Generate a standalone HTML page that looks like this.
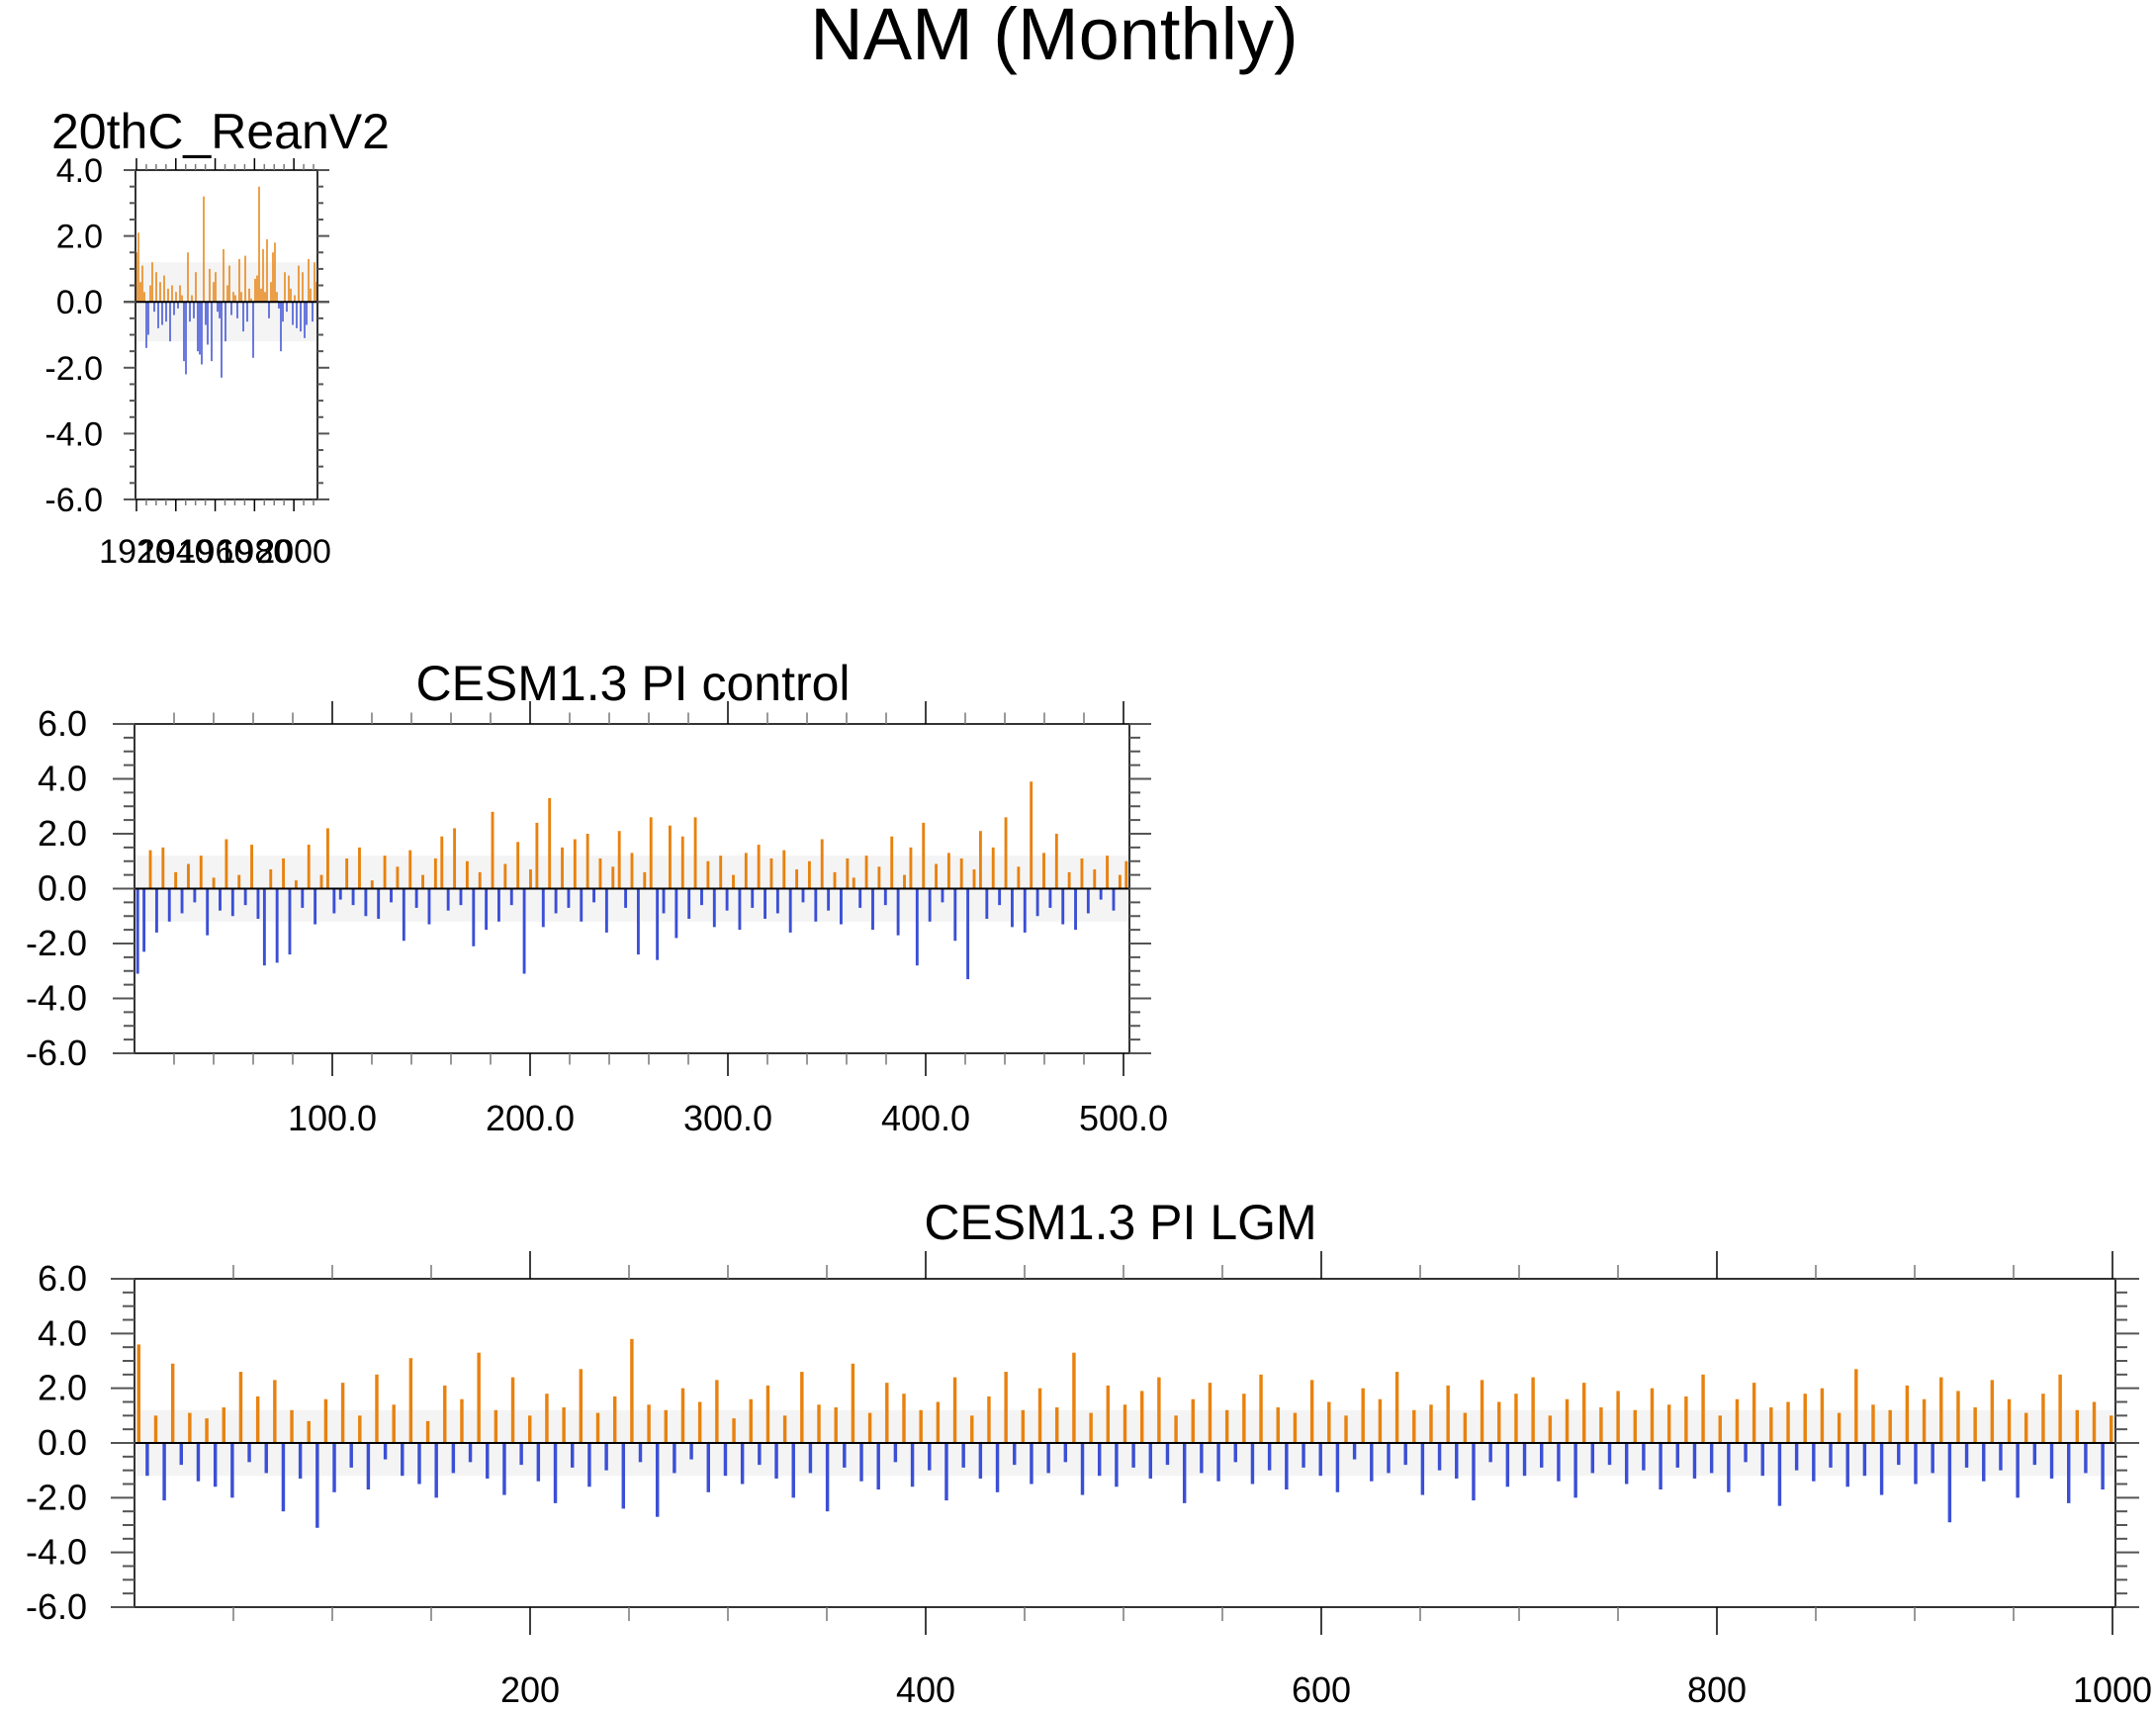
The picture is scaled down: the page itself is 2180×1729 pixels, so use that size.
<!DOCTYPE html>
<html><head><meta charset="utf-8"><style>
body{margin:0;background:#fff}
svg{display:block;font-family:"Liberation Sans",Arial,sans-serif}
</style></head><body>
<svg id="fig" width="2180" height="1729" viewBox="0 0 2180 1729" xmlns="http://www.w3.org/2000/svg">
<text x="1066" y="60" font-size="74" text-anchor="middle">NAM (Monthly)</text>
<g id="p1"></g>
<g id="p2"></g>
<g id="p3"></g>
</svg>
<script>
const p1Values=[1.5,2.1,0.6,1.1,0.3,-1.4,-1.0,0.5,1.2,-0.3,0.9,-0.8,0.6,-0.7,0.8,-0.6,0.4,-1.2,0.5,-0.4,0.3,-0.2,0.5,0.2,-1.8,-2.2,1.5,-0.6,0.2,-0.5,0.9,-1.5,-1.6,-1.9,3.2,-0.7,-1.3,1.0,-1.8,0.6,0.9,-0.3,-0.5,-2.3,1.6,-1.2,0.5,1.1,-0.4,0.3,0.2,-0.5,1.3,0.3,-0.9,1.4,-0.6,0.4,0.1,-1.7,0.7,0.8,3.5,0.4,1.6,0.3,1.9,-0.5,0.6,1.5,1.8,0.3,-0.2,-1.5,-0.6,0.9,-0.3,0.8,0.4,-0.7,0.2,-0.8,1.1,-0.9,0.9,-1.1,-0.7,1.3,0.4,-0.6,1.2,0.6];
const p2Values=[-3.1,-2.3,1.4,-1.6,1.5,-1.2,0.6,-0.9,0.9,-0.5,1.2,-1.7,0.4,-0.8,1.8,-1.0,0.5,-0.6,1.6,-1.1,-2.8,0.7,-2.7,1.1,-2.4,0.3,-0.7,1.6,-1.3,0.5,2.2,-0.9,-0.4,1.1,-0.6,1.5,-1.0,0.3,-1.1,1.2,-0.5,0.8,-1.9,1.4,-0.7,0.5,-1.3,1.1,1.9,-0.8,2.2,-0.6,1.0,-2.1,0.6,-1.5,2.8,-1.2,0.9,-0.6,1.7,-3.1,0.7,2.4,-1.4,3.3,-0.9,1.5,-0.7,1.8,-1.2,2.0,-0.5,1.1,-1.6,0.8,2.1,-0.7,1.3,-2.4,0.6,2.6,-2.6,-0.9,2.3,-1.8,1.9,-1.1,2.6,-0.6,1.0,-1.4,1.2,-0.8,0.5,-1.5,1.3,-0.7,1.6,-1.1,1.1,-0.9,1.4,-1.6,0.7,-0.5,1.0,-1.2,1.8,-0.8,0.6,-1.3,1.1,0.4,-0.7,1.2,-1.5,0.8,-0.6,1.9,-1.7,0.5,1.5,-2.8,2.4,-1.2,0.9,-0.5,1.3,-1.9,1.1,-3.3,0.7,2.1,-1.1,1.5,-0.6,2.6,-1.4,0.8,-1.6,3.9,-1.0,1.3,-0.7,2.0,-1.3,0.6,-1.5,1.1,-0.9,0.7,-0.4,1.2,-0.8,0.5,1.0];
const p3Values=[3.6,-1.2,1.0,-2.1,2.9,-0.8,1.1,-1.4,0.9,-1.6,1.3,-2.0,2.6,-0.7,1.7,-1.1,2.3,-2.5,1.2,-1.3,0.8,-3.1,1.6,-1.8,2.2,-0.9,1.0,-1.7,2.5,-0.6,1.4,-1.2,3.1,-1.5,0.8,-2.0,2.1,-1.1,1.6,-0.7,3.3,-1.3,1.2,-1.9,2.4,-0.8,1.0,-1.4,1.8,-2.2,1.3,-0.9,2.7,-1.6,1.1,-1.0,1.7,-2.4,3.8,-0.7,1.4,-2.7,1.2,-1.1,2.0,-0.6,1.5,-1.8,2.3,-1.2,0.9,-1.5,1.6,-0.8,2.1,-1.3,1.0,-2.0,2.6,-1.1,1.4,-2.5,1.3,-0.9,2.9,-1.4,1.1,-1.7,2.2,-0.7,1.8,-1.6,1.2,-1.0,1.5,-2.1,2.4,-0.9,1.0,-1.3,1.7,-1.8,2.6,-0.8,1.2,-1.5,2.0,-1.1,1.3,-0.7,3.3,-1.9,1.1,-1.2,2.1,-1.6,1.4,-0.9,1.9,-1.3,2.4,-0.8,1.0,-2.2,1.6,-1.1,2.2,-1.4,1.2,-0.7,1.8,-1.5,2.5,-1.0,1.3,-1.7,1.1,-0.9,2.3,-1.2,1.5,-1.8,1.0,-0.6,2.0,-1.4,1.6,-1.1,2.6,-0.8,1.2,-1.9,1.4,-1.0,2.1,-1.3,1.1,-2.1,2.3,-0.7,1.5,-1.6,1.8,-1.2,2.4,-0.9,1.0,-1.4,1.6,-2.0,2.2,-1.1,1.3,-0.8,1.9,-1.5,1.2,-1.0,2.0,-1.7,1.4,-0.9,1.7,-1.3,2.5,-1.1,1.0,-1.8,1.6,-0.7,2.2,-1.2,1.3,-2.3,1.5,-1.0,1.8,-1.4,2.0,-0.9,1.1,-1.6,2.7,-1.2,1.4,-1.9,1.2,-0.8,2.1,-1.5,1.6,-1.1,2.4,-2.9,1.9,-0.9,1.3,-1.4,2.3,-1.0,1.6,-2.0,1.1,-0.8,1.8,-1.3,2.5,-2.2,1.2,-1.1,1.5,-1.7,1.0];
const p1Ticks=["1920","1940","1960","1980","2000"];
const p2Ticks=["100.0","200.0","300.0","400.0","500.0"];
const p3Ticks=["200","400","600","800","1000"];
const yTicks6=["-6.0","-4.0","-2.0","0.0","2.0","4.0","6.0"];
const yTicks4=["-6.0","-4.0","-2.0","0.0","2.0","4.0"];

const NS="http://www.w3.org/2000/svg";
function mk(parent,tag,attrs){const e=document.createElementNS(NS,tag);for(const k in attrs)e.setAttribute(k,attrs[k]);parent.appendChild(e);return e;}

function panel(cfg){
  const g=document.getElementById(cfg.id);
  const {L,R,T,B,x0,x1,y0,y1}=cfg;
  const sx=v=>L+(v-x0)/(x1-x0)*(R-L);
  const sy=v=>B-(v-y0)/(y1-y0)*(B-T);
  const t=mk(g,'text',{x:cfg.titleX,y:cfg.titleY,'font-size':50,'text-anchor':cfg.titleAnchor});
  t.textContent=cfg.title;
  
  
  mk(g,'rect',{x:L,y:sy(1.2),width:R-L,height:sy(-1.2)-sy(1.2),fill:'#f4f4f4'});
  const bars=mk(g,'g',{});
  
  
  const n=cfg.values.length;
  const step=(x1-cfg.xStart)/n;
  const bw=Math.max(1.5,(sx(step)-sx(0))*cfg.fill);
  cfg.values.forEach((v,i)=>{
    const xv=cfg.xStart+(i+0.5)*step;
    const r=mk(bars,'rect',{x:sx(xv)-bw/2,width:bw,y:Math.min(sy(v),sy(0)),height:Math.abs(sy(v)-sy(0)),fill:v>=0?'#e8820f':'#3b4fd6'});
    
    
  });
  mk(g,'line',{x1:L-cfg.yMaj,x2:R+cfg.yMaj,y1:sy(0),y2:sy(0),stroke:'#000','stroke-width':2});
  const frame=mk(g,'rect',{x:L,y:T,width:R-L,height:B-T,fill:'none',stroke:'#333','stroke-width':2});
  
  
  for(let v=y0;v<=y1+1e-9;v+=0.5){
    const maj=Math.abs(v/2-Math.round(v/2))<1e-6;
    const len=maj?cfg.yMaj:cfg.yMaj/2;
    mk(g,'line',{x1:L-len,x2:L,y1:sy(v),y2:sy(v),stroke:'#555','stroke-width':2});
    mk(g,'line',{x1:R,x2:R+len,y1:sy(v),y2:sy(v),stroke:'#555','stroke-width':2});
  }
  cfg.yLabels.forEach(s=>{
    const tx=mk(g,'text',{x:cfg.yLabX,y:sy(parseFloat(s))+12,'font-size':cfg.fs,'text-anchor':'end'});
    tx.textContent=s;
    
    
  });
  for(let v=cfg.minorStart;v<=x1+1e-9;v+=cfg.minor){
    const maj=Math.abs((v-cfg.majorStart)/cfg.major-Math.round((v-cfg.majorStart)/cfg.major))<1e-6;
    const len=maj?cfg.xMaj:cfg.xMaj/2;
    mk(g,'line',{x1:sx(v),x2:sx(v),y1:T-len,y2:T,stroke:maj?'#000':'#777','stroke-width':1.5});
    mk(g,'line',{x1:sx(v),x2:sx(v),y1:B,y2:B+len,stroke:maj?'#000':'#777','stroke-width':1.5});
  }
  cfg.xLabels.forEach(s=>{
    const tx=mk(g,'text',{x:sx(parseFloat(s)),y:cfg.xLabY,'font-size':cfg.fs,'text-anchor':'middle'});
    tx.textContent=s;
    
    
  });
}
panel({id:'p1',L:137,R:321,T:172,B:505,x0:1919.5,x1:2012,y0:-6,y1:4,values:p1Values,xStart:1919.5,fill:0.6,fs:34,
  title:'20thC_ReanV2',titleX:52,titleY:150,titleAnchor:'start',yLabels:yTicks4,yLabX:104,yMaj:12,
  minorStart:1920,minor:5,majorStart:1920,major:20,xMaj:12,xLabels:p1Ticks,xLabY:569});
panel({id:'p2',L:136,R:1142,T:732,B:1065,x0:0,x1:503,y0:-6,y1:6,values:p2Values,xStart:0,fill:0.45,fs:36,
  title:'CESM1.3 PI control',titleX:640,titleY:708,titleAnchor:'middle',yLabels:yTicks6,yLabX:88,yMaj:22,
  minorStart:20,minor:20,majorStart:100,major:100,xMaj:23,xLabels:p2Ticks,xLabY:1143});
panel({id:'p3',L:136,R:2139,T:1293,B:1625,x0:0,x1:1001.5,y0:-6,y1:6,values:p3Values,xStart:0,fill:0.4,fs:36,
  title:'CESM1.3 PI LGM',titleX:1133,titleY:1253,titleAnchor:'middle',yLabels:yTicks6,yLabX:88,yMaj:24,
  minorStart:50,minor:50,majorStart:200,major:200,xMaj:28,xLabels:p3Ticks,xLabY:1721});
</script>
</body></html>
